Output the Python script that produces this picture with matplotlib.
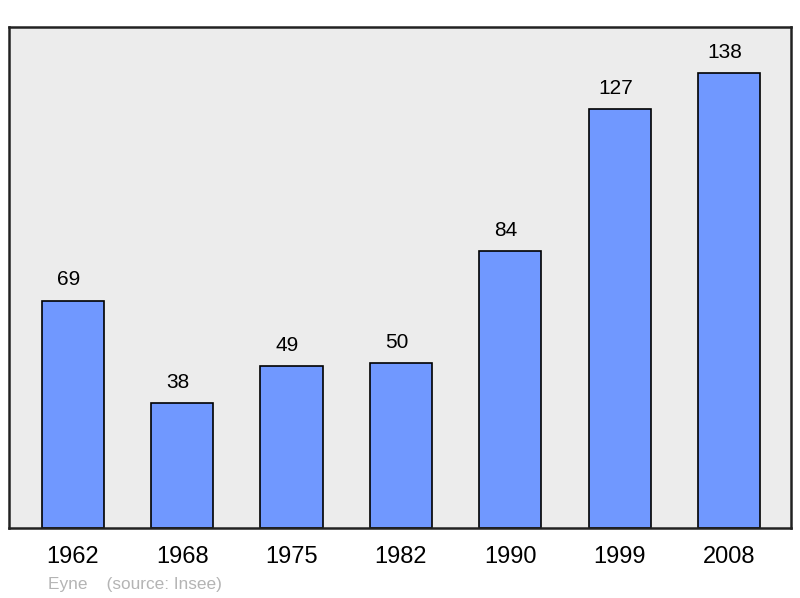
import matplotlib
matplotlib.use("Agg")
import matplotlib.pyplot as plt

plt.rcParams["font.family"] = ["Liberation Sans", "DejaVu Sans"]

years = ["1962", "1968", "1975", "1982", "1990", "1999", "2008"]
population = [69, 38, 49, 50, 84, 127, 138]

fig = plt.figure(figsize=(8, 5.98), dpi=100)
ax = fig.add_axes([9 / 800, 1 - 528 / 598, 782 / 800, 501 / 598])
ax.set_facecolor("#ececec")

x = range(len(years))
ax.bar(x, population, width=0.57, color="#7098ff", edgecolor="black", linewidth=1.2, zorder=2)
for i, v in enumerate(population):
    ax.annotate(str(v), (i, v), xytext=(-3, 8), textcoords="offset points",
                ha="center", va="bottom", fontsize=15)

ax.set_xlim(-0.585, 6.567)
ax.set_ylim(0, 152)
ax.set_xticks(list(x))
ax.set_xticklabels(years, fontsize=17)
ax.tick_params(axis="x", length=0, pad=13)
ax.set_yticks([])
for s in ax.spines.values():
    s.set_linewidth(1.8)
    s.set_color("#222222")

fig.text(48 / 800, 1 - 584 / 598, "Eyne    (source: Insee)", color="#b4b4b4",
         fontsize=12.4, va="center", ha="left")

fig.savefig("out.png", dpi=100)
